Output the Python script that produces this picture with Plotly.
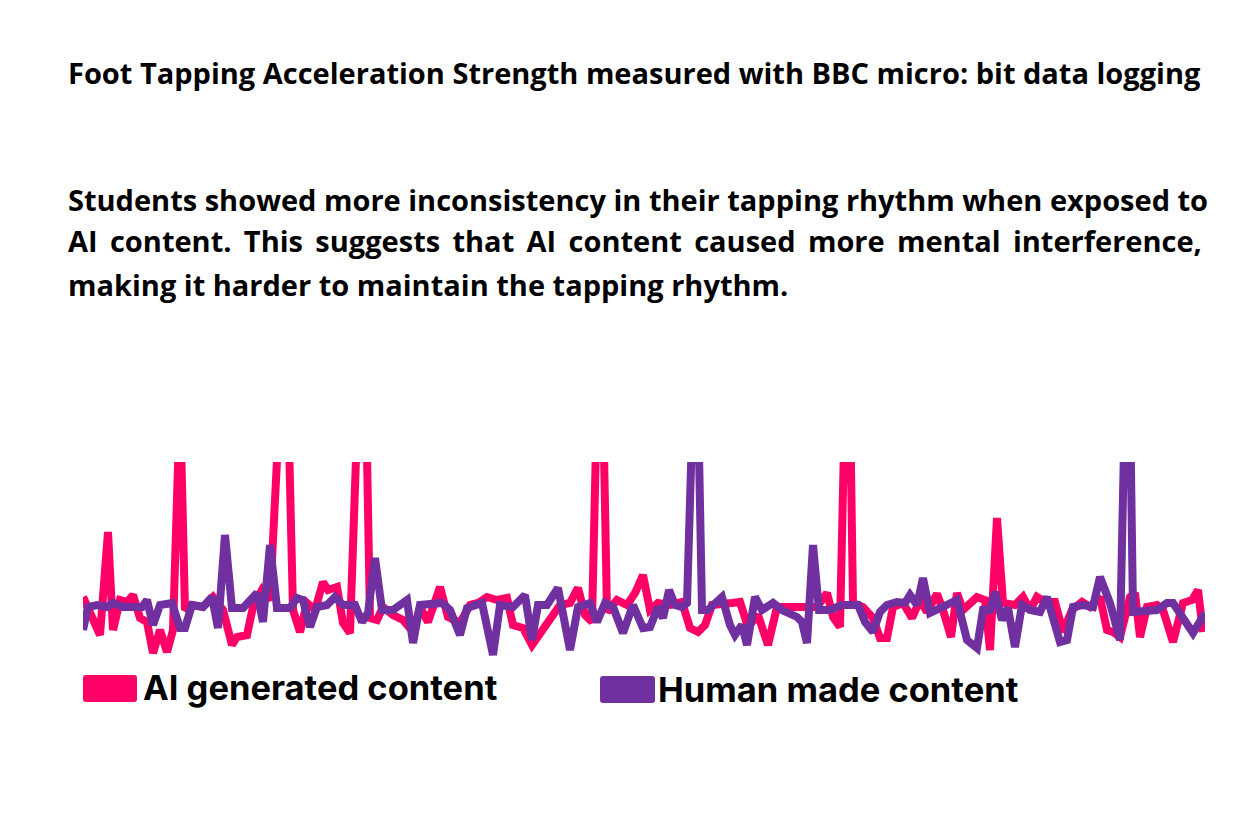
import plotly.graph_objects as go

# ---- data (sample time, acceleration strength) ----
ai_time = [0, 17, 25, 30, 37, 44, 50, 57, 64, 70, 77, 84, 90, 97, 102, 109, 120, 130, 140, 149,
           154, 164, 170, 179, 187, 197, 205, 210, 217, 224, 232, 240, 245, 254, 260, 267, 275, 283, 287, 294,
           300, 310, 320, 330, 337, 345, 357, 365, 377, 387, 395, 404, 414, 424, 430, 440, 449, 457, 467, 477,
           487, 495, 502, 509, 514, 520, 524, 534, 544, 552, 560, 567, 575, 587, 599, 607, 615, 622, 629, 640,
           649, 657, 665, 675, 685, 694, 704, 714, 724, 734, 744, 750, 757, 762, 767, 770, 780, 790, 797, 804,
           810, 820, 829, 837, 844, 854, 860, 868, 874, 880, 894, 902, 907, 914, 920, 932, 940, 947, 954, 962,
           972, 980, 989, 999, 1007, 1017, 1024, 1030, 1037, 1047, 1052, 1057, 1064, 1074, 1080, 1090, 1100, 1109, 1115, 1120]
ai_accel = [63, 25, 128, 30, 60, 58, 65, 42, 38, 7, 30, 8, 30, 260, 50, 55, 53, 63, 50, 15,
            23, 25, 53, 70, 60, 260, 260, 50, 28, 57, 50, 78, 70, 73, 37, 27, 260, 260, 42, 40,
            53, 45, 40, 28, 53, 38, 73, 43, 37, 55, 57, 63, 60, 62, 35, 32, 15, 27, 43, 55,
            57, 72, 45, 38, 260, 260, 48, 60, 55, 67, 85, 50, 57, 55, 58, 32, 28, 35, 55, 55,
            57, 58, 33, 45, 15, 53, 53, 55, 55, 53, 67, 43, 33, 260, 260, 57, 53, 42, 22, 22,
            53, 57, 42, 60, 48, 66, 50, 23, 67, 50, 63, 60, 10, 142, 57, 55, 63, 50, 63, 58,
            58, 28, 50, 58, 53, 63, 30, 28, 23, 63, 67, 23, 53, 55, 50, 18, 57, 60, 70, 28]

human_time = [0, 5, 14, 24, 30, 40, 59, 64, 70, 77, 89, 97, 102, 109, 120, 129, 135, 142, 149, 160,
              174, 180, 187, 194, 207, 214, 220, 227, 234, 244, 252, 260, 272, 279, 285, 292, 299, 310, 324, 330,
              337, 347, 359, 367, 377, 384, 399, 410, 417, 430, 442, 449, 455, 464, 475, 487, 495, 507, 514, 522,
              530, 540, 550, 560, 567, 575, 580, 586, 592, 599, 604, 610, 615, 619, 625, 639, 647, 652, 659, 664,
              672, 679, 690, 699, 714, 719, 724, 730, 736, 747, 759, 775, 782, 790, 797, 804, 814, 822, 827, 834,
              840, 847, 860, 874, 884, 894, 900, 907, 912, 919, 925, 932, 939, 947, 957, 964, 977, 984, 990, 1000,
              1010, 1017, 1027, 1037, 1042, 1047, 1050, 1060, 1074, 1084, 1090, 1100, 1110, 1122]
human_accel = [30, 53, 55, 53, 57, 53, 53, 60, 35, 55, 57, 32, 32, 55, 53, 63, 32, 125, 52, 52,
               67, 38, 115, 52, 52, 62, 60, 33, 53, 55, 63, 55, 55, 38, 47, 102, 50, 50, 60, 17,
               55, 55, 57, 50, 25, 52, 57, 5, 55, 53, 65, 20, 55, 55, 72, 10, 53, 57, 38, 57,
               53, 27, 55, 32, 33, 53, 42, 70, 55, 53, 57, 260, 260, 50, 50, 63, 35, 25, 35, 15,
               63, 50, 57, 50, 43, 38, 17, 115, 50, 50, 55, 55, 38, 28, 48, 55, 58, 57, 65, 55,
               82, 47, 53, 60, 20, 12, 50, 50, 68, 40, 52, 13, 55, 50, 48, 63, 18, 20, 53, 55,
               53, 83, 57, 20, 260, 260, 48, 48, 50, 57, 57, 42, 27, 47]

series_names = ["AI generated content", "Human made content"]
series_colors = ["#FF0066", "#7030A0"]

title_text = "Foot Tapping Acceleration Strength measured with BBC micro: bit data logging"
para_line1 = "Students showed more inconsistency in their tapping rhythm when exposed to"
para_line2_words = ["AI", "content.", "This", "suggests", "that", "AI", "content", "caused", "more", "mental", "interference,"]
para_line3 = "making it harder to maintain the tapping rhythm."

# ---- layout geometry (page pixels; the page body has an 8px margin) ----
BODY = 8
FIG_W, FIG_H = 1244, 800
L, R, T, B = 83, 1205, 462, 660   # plot area on the page


def px(x):
    return (x - L) / (R - L)


def py(y):
    return (B - y) / (B - T)


fig = go.Figure()
fig.add_trace(go.Scatter(x=ai_time, y=ai_accel, mode="lines", name=series_names[0],
                         line=dict(color=series_colors[0], width=8), showlegend=False, hoverinfo="skip"))
fig.add_trace(go.Scatter(x=human_time, y=human_accel, mode="lines", name=series_names[1],
                         line=dict(color=series_colors[1], width=8), showlegend=False, hoverinfo="skip"))

FS = 29
text_font = dict(family="Open Sans", size=FS, color="#000000", weight="bold")
ann = []
ann.append(dict(text=title_text, x=px(66), y=py(72), xanchor="left", yanchor="middle", font=text_font))
ann.append(dict(text=para_line1, x=px(66), y=py(199), xanchor="left", yanchor="middle", font=text_font))
# justified second line: widen each word gap with a thin space
para_line2 = (" \u2009").join(para_line2_words)
ann.append(dict(text=para_line2, x=px(66), y=py(241), xanchor="left", yanchor="middle", font=text_font))
ann.append(dict(text=para_line3, x=px(66), y=py(284), xanchor="left", yanchor="middle", font=text_font))

legend_font = dict(family="Inter", size=34.5, color="#000000", weight="bold")
ann.append(dict(text=series_names[0], x=px(141), y=py(687), xanchor="left", yanchor="middle", font=legend_font))
ann.append(dict(text=series_names[1], x=px(656), y=py(689), xanchor="left", yanchor="middle", font=legend_font))
for a in ann:
    a.update(xref="paper", yref="paper", showarrow=False)


def rounded_rect(x0, y0, x1, y1, r=3):
    X0, X1 = px(x0), px(x1)
    Y0, Y1 = py(y1), py(y0)
    rx, ry = r / (R - L), r / (B - T)
    return (f"M{X0+rx},{Y0} L{X1-rx},{Y0} Q{X1},{Y0} {X1},{Y0+ry} L{X1},{Y1-ry} Q{X1},{Y1} {X1-rx},{Y1} "
            f"L{X0+rx},{Y1} Q{X0},{Y1} {X0},{Y1-ry} L{X0},{Y0+ry} Q{X0},{Y0} {X0+rx},{Y0} Z")


shapes = [
    dict(type="path", xref="paper", yref="paper", path=rounded_rect(83, 675, 137, 702),
         fillcolor=series_colors[0], line=dict(width=0)),
    dict(type="path", xref="paper", yref="paper", path=rounded_rect(600, 676, 655, 703),
         fillcolor=series_colors[1], line=dict(width=0)),
]

fig.update_layout(
    width=FIG_W, height=FIG_H,
    margin=dict(l=L - BODY, r=FIG_W - (R - BODY), t=T - BODY, b=FIG_H - (B - BODY), pad=0),
    paper_bgcolor="white", plot_bgcolor="white",
    xaxis=dict(range=[0, 1122], visible=False, fixedrange=True),
    yaxis=dict(range=[0, 198], visible=False, fixedrange=True),
    annotations=ann, shapes=shapes,
)

fig.write_html("out.html")
